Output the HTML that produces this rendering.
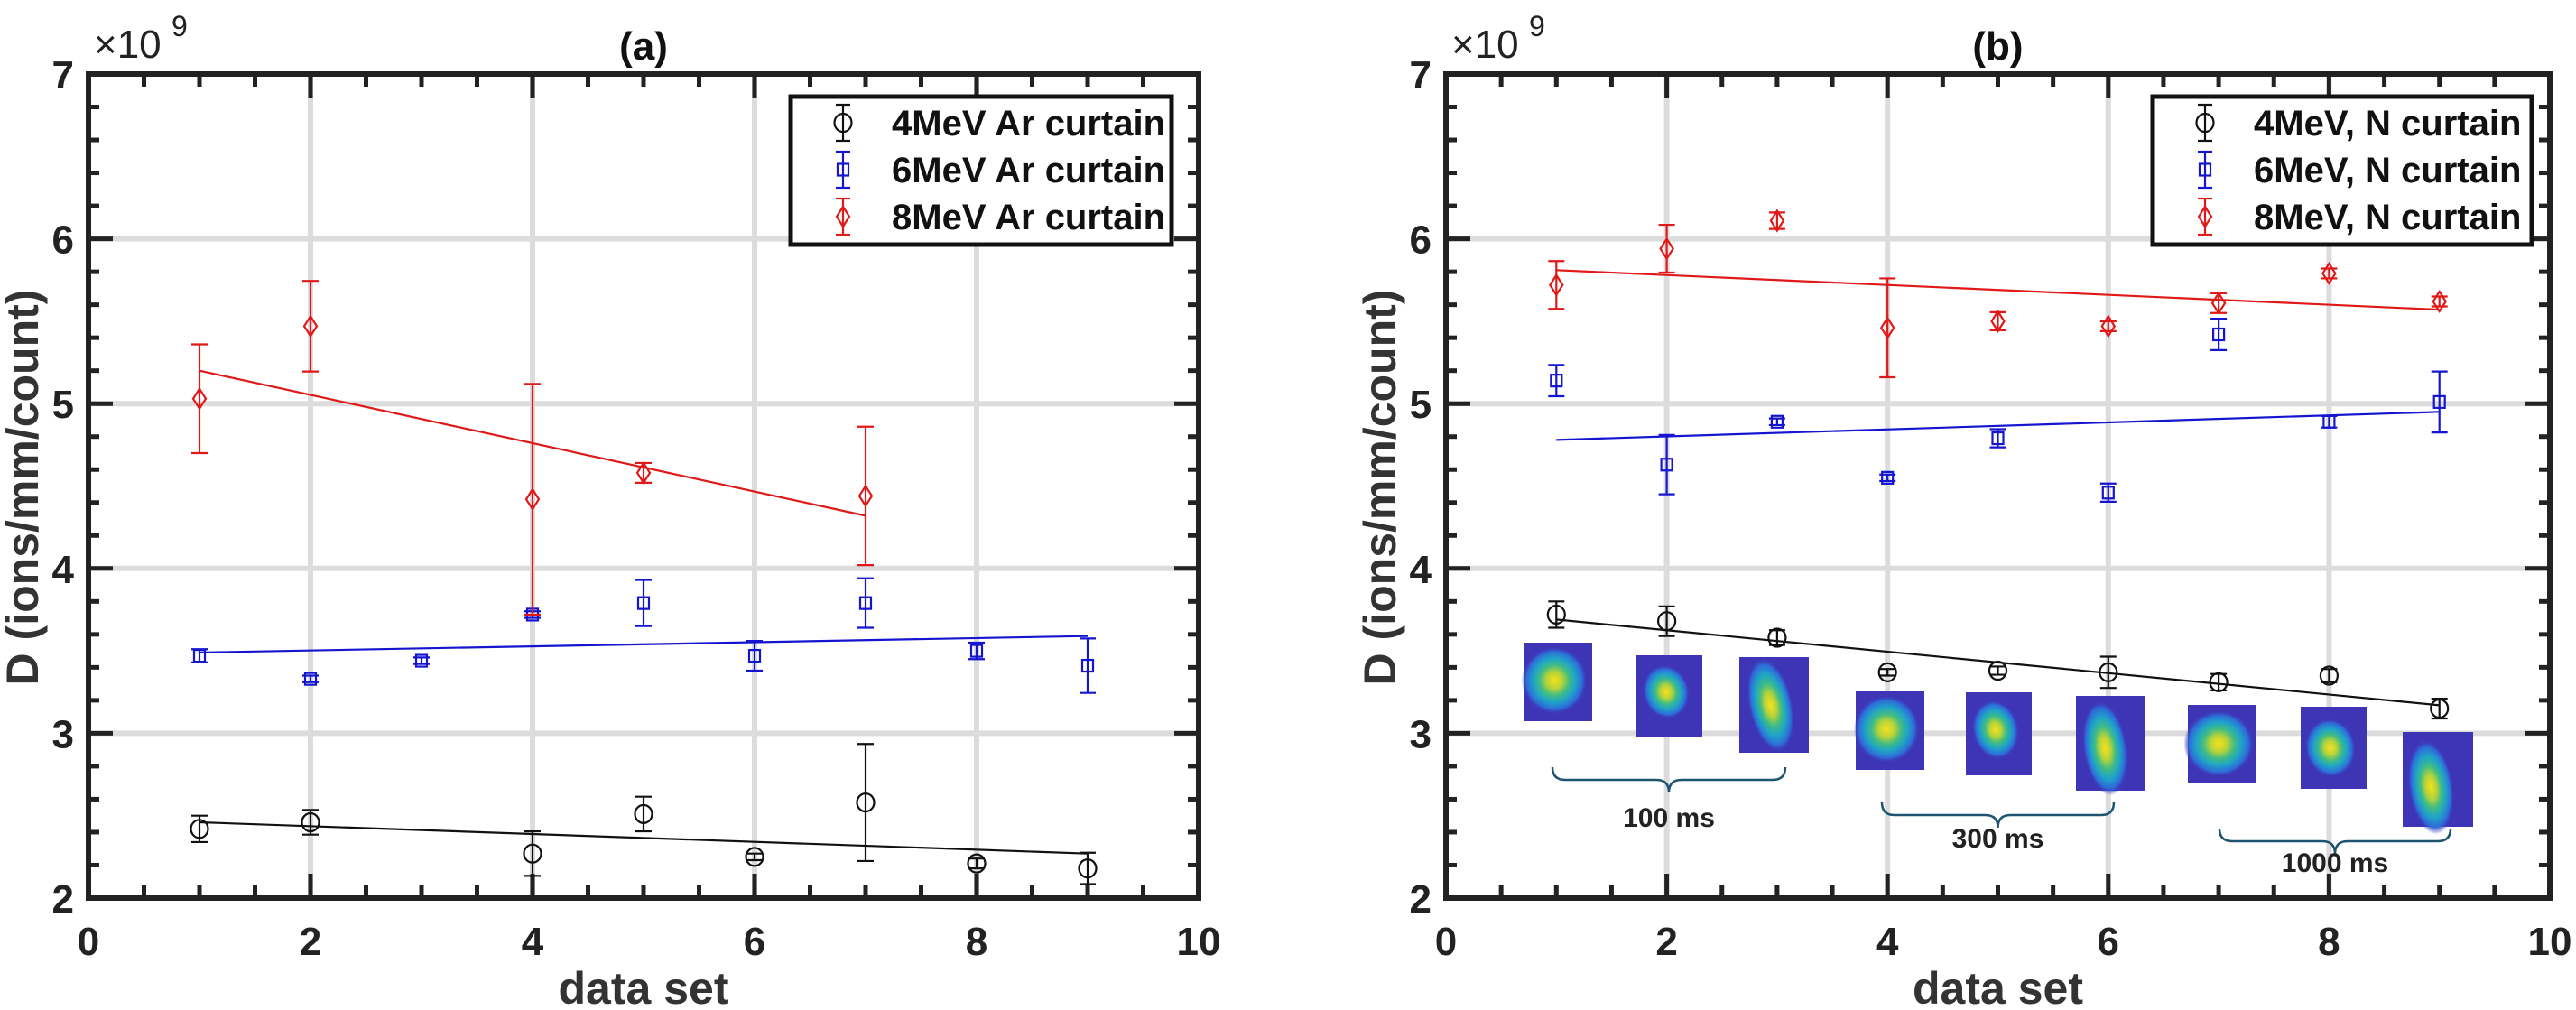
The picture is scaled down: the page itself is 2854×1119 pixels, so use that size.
<!DOCTYPE html>
<html><head><meta charset="utf-8">
<style>
html,body{margin:0;padding:0;background:#fff;}
svg{display:block;}
text{font-family:"Liberation Sans",Arial,sans-serif;}
</style></head>
<body>
<svg id="chart" width="2854" height="1119" viewBox="0 0 2854 1119" xmlns="http://www.w3.org/2000/svg">
<defs>
<radialGradient id="blob" cx="50%" cy="50%" r="50%">
<stop offset="0" stop-color="#f7e11c"/>
<stop offset="0.25" stop-color="#b5d33a"/>
<stop offset="0.45" stop-color="#3fbc85"/>
<stop offset="0.65" stop-color="#1fa3c8"/>
<stop offset="0.85" stop-color="#2f6ad8"/>
<stop offset="1" stop-color="#3d35b5" stop-opacity="0"/>
</radialGradient>
</defs>
</svg>
<script>
// ---------- data ----------
const xTicks = [0,2,4,6,8,10];
const yTicks = [2,3,4,5,6,7];
const seriesNamesA = ['4MeV Ar curtain','6MeV Ar curtain','8MeV Ar curtain'];
const seriesNamesB = ['4MeV, N curtain','6MeV, N curtain','8MeV, N curtain'];

const a4x = [1,2,4,5,6,7,8,9];
const a4y = [2.42,2.46,2.27,2.51,2.25,2.58,2.21,2.18];
const a4e = [0.08,0.075,0.135,0.105,0.02,0.355,0.03,0.095];
const a4fit = [[1,2.46],[9,2.27]];
const a6x = [1,2,3,4,5,6,7,8,9];
const a6y = [3.47,3.33,3.44,3.72,3.79,3.47,3.79,3.50,3.41];
const a6e = [0.04,0.02,0.02,0.02,0.14,0.09,0.15,0.05,0.165];
const a6fit = [[1,3.49],[9,3.59]];
const a8x = [1,2,4,5,7];
const a8y = [5.03,5.47,4.42,4.58,4.44];
const a8e = [0.33,0.275,0.70,0.06,0.42];
const a8fit = [[1,5.20],[7,4.32]];

const b4x = [1,2,3,4,5,6,7,8,9];
const b4y = [3.72,3.68,3.58,3.37,3.38,3.37,3.31,3.35,3.15];
const b4e = [0.08,0.09,0.045,0.02,0.025,0.095,0.05,0.04,0.06];
const b4fit = [[1,3.69],[9,3.17]];
const b6x = [1,2,3,4,5,6,7,8,9];
const b6y = [5.14,4.63,4.89,4.55,4.79,4.46,5.42,4.89,5.01];
const b6e = [0.095,0.18,0.02,0.02,0.055,0.055,0.095,0.035,0.185];
const b6fit = [[1,4.78],[9,4.95]];
const b8x = [1,2,3,4,5,6,7,8,9];
const b8y = [5.72,5.94,6.11,5.46,5.50,5.47,5.61,5.79,5.62];
const b8e = [0.145,0.145,0.05,0.30,0.055,0.03,0.06,0.03,0.03];
const b8fit = [[1,5.81],[9,5.57]];

// ---------- drawing ----------
const NS='http://www.w3.org/2000/svg';
const svg=document.getElementById('chart');
function mk(tag,attrs,parent){const e=document.createElementNS(NS,tag);for(const k in attrs)e.setAttribute(k,attrs[k]);(parent||svg).appendChild(e);return e;}

function panel(cfg){
  const L=cfg.left,R=cfg.right,T=82,B=995;
  const sx=v=>L+(v-0)/10*(R-L);
  const sy=v=>B-(v-2)/5*(B-T);
  const g=mk('g',{});
  
  
  // grid
  [2,4,6,8].forEach(v=>{const l=mk('line',{x1:sx(v),x2:sx(v),y1:T,y2:B,stroke:'#dcdcdc','stroke-width':6},g);
    });
  [3,4,5,6].forEach(v=>{const l=mk('line',{x1:L,x2:R,y1:sy(v),y2:sy(v),stroke:'#dcdcdc','stroke-width':6},g);
    });
  // extra (images etc.) drawn under data
  if(cfg.extra) cfg.extra(g,sx,sy);
  // ticks
  for(let v=0.5;v<10;v+=0.5){const maj=Math.abs(v%2)<1e-6;const len=maj?27:14;
    mk('line',{x1:sx(v),x2:sx(v),y1:B,y2:B-len,stroke:'#222','stroke-width':5},g);
    mk('line',{x1:sx(v),x2:sx(v),y1:T,y2:T+len,stroke:'#222','stroke-width':5},g);}
  for(let v=2.2;v<7;v+=0.2){const maj=Math.abs(v-Math.round(v))<1e-6;const len=maj?27:12;
    mk('line',{x1:L,x2:L+len,y1:sy(v),y2:sy(v),stroke:'#222','stroke-width':5},g);
    mk('line',{x1:R,x2:R-len,y1:sy(v),y2:sy(v),stroke:'#222','stroke-width':5},g);}
  // box
  const box=mk('rect',{x:L,y:T,width:R-L,height:B-T,fill:'none',stroke:'#222','stroke-width':6},g);
  
  // tick labels
  xTicks.forEach(v=>{const t=mk('text',{x:sx(v),y:1058,'font-size':44,'font-weight':'bold','text-anchor':'middle',fill:'#222'},g);t.textContent=v;
    });
  yTicks.forEach(v=>{const t=mk('text',{x:L-16,y:sy(v)+16,'font-size':44,'font-weight':'bold','text-anchor':'end',fill:'#222'},g);t.textContent=v;
    });
  const ex=mk('text',{x:L+6,y:64,'font-size':44,fill:'#222'},g);ex.textContent='\u00d710';
  
  const e9=mk('text',{x:L+92,y:40,'font-size':32,fill:'#222'},g);e9.textContent='9';
  const ti=mk('text',{x:(L+R)/2,y:66,'font-size':44,'font-weight':'bold','text-anchor':'middle',fill:'#111'},g);ti.textContent=cfg.title;
  
  const xl=mk('text',{x:(L+R)/2,y:1112,'font-size':50,'font-weight':'bold','text-anchor':'middle',fill:'#333'},g);xl.textContent='data set';
  
  const yl=mk('text',{x:0,y:0,'font-size':50,'font-weight':'bold','text-anchor':'middle',fill:'#333',transform:`translate(${L-56},540) rotate(-90)`},g);yl.textContent='D (ions/mm/count)';
  
  // series
  const cols=['#111','#1515d0','#e01818'];
  const shapes=['circle','square','diamond'];
  cfg.series.forEach((s,i)=>{
    const c=cols[i];
    const fl=mk('line',{x1:sx(s.fit[0][0]),y1:sy(s.fit[0][1]),x2:sx(s.fit[1][0]),y2:sy(s.fit[1][1]),stroke:c,'stroke-width':2.2},g);
    
    s.x.forEach((xv,j)=>{
      const cx=sx(xv),cy=sy(s.y[j]),t=sy(s.y[j]+s.e[j]),b=sy(s.y[j]-s.e[j]);
      const gg=mk('g',{},g);
      
      mk('line',{x1:cx,x2:cx,y1:t,y2:b,stroke:c,'stroke-width':2.2},gg);
      mk('line',{x1:cx-9,x2:cx+9,y1:t,y2:t,stroke:c,'stroke-width':2.2},gg);
      mk('line',{x1:cx-9,x2:cx+9,y1:b,y2:b,stroke:c,'stroke-width':2.2},gg);
      marker(gg,shapes[i],cx,cy,c);
    });
  });
  // legend
  const lg=mk('g',{},g);
  
  const lx=cfg.legend[0],lw=cfg.legend[1];
  mk('rect',{x:lx,y:107,width:lw,height:164,fill:'#fff',stroke:'#111','stroke-width':5},lg);
  cfg.names.forEach((n,i)=>{
    const yy=136+i*52,mx=lx+58;const c=cols[i];
    const le=mk('g',{},lg);
    
    mk('line',{x1:mx,x2:mx,y1:yy-20,y2:yy+20,stroke:c,'stroke-width':2.2},le);
    mk('line',{x1:mx-8,x2:mx+8,y1:yy-20,y2:yy-20,stroke:c,'stroke-width':2.2},le);
    mk('line',{x1:mx-8,x2:mx+8,y1:yy+20,y2:yy+20,stroke:c,'stroke-width':2.2},le);
    marker(le,shapes[i],mx,yy,c);
    const tt=mk('text',{x:lx+112,y:yy+14,'font-size':40,'font-weight':'bold',fill:'#111'},le);tt.textContent=n;
  });
}
function marker(g,shape,cx,cy,c){
  if(shape==='circle') mk('ellipse',{cx,cy,rx:9.5,ry:10,fill:'none',stroke:c,'stroke-width':2.2},g);
  else if(shape==='square') mk('rect',{x:cx-6,y:cy-6.5,width:12,height:13,fill:'none',stroke:c,'stroke-width':2.2},g);
  else mk('polygon',{points:`${cx},${cy-11} ${cx+7},${cy} ${cx},${cy+11} ${cx-7},${cy}`,fill:'none',stroke:c,'stroke-width':2.2},g);
}

panel({name:'panel-a',left:98,right:1328,title:'(a)',names:seriesNamesA,legend:[876,422],
  series:[{x:a4x,y:a4y,e:a4e,fit:a4fit},{x:a6x,y:a6y,e:a6e,fit:a6fit},{x:a8x,y:a8y,e:a8e,fit:a8fit}]});

const thumbs=[[1688,712,76,87,0.45,0.48,0.30,0.36,0],[1813,726,73,90,0.45,0.45,0.22,0.28,-15],[1927,728,77,106,0.45,0.50,0.20,0.42,-12],
 [2056,766,76,87,0.45,0.48,0.30,0.36,0],[2178,767,73,92,0.45,0.45,0.22,0.30,-12],[2300,771,77,105,0.42,0.55,0.20,0.42,-8],
 [2424,781,76,86,0.45,0.50,0.32,0.36,0],[2549,783,73,91,0.45,0.50,0.24,0.30,-10],[2662,811,78,105,0.40,0.58,0.20,0.42,-8]];
const braces=[[1720,850,1978,'100 ms',906],[2085,889,2342,'300 ms',929],[2459,918,2715,'1000 ms',956]];

panel({name:'panel-b',left:1602,right:2825,title:'(b)',names:seriesNamesB,legend:[2385,420],
  series:[{x:b4x,y:b4y,e:b4e,fit:b4fit},{x:b6x,y:b6y,e:b6e,fit:b6fit},{x:b8x,y:b8y,e:b8e,fit:b8fit}],
  extra:function(g){
    thumbs.forEach(t=>{
      const tg=mk('g',{},g);
      
      
      mk('rect',{x:t[0],y:t[1],width:t[2],height:t[3],fill:'#3d35b5'},tg);
      const cx=t[0]+t[2]*t[4],cy=t[1]+t[3]*t[5];
      mk('ellipse',{cx,cy,rx:t[2]*t[6]*1.6,ry:t[3]*t[7]*1.2,fill:'url(#blob)',transform:`rotate(${t[8]} ${cx} ${cy})`},tg);
    });
    braces.forEach(b=>{
      const [x1,y1,x2,lab,ly]=b,m=(x1+x2)/2,h=28;
      const bg=mk('g',{},g);
      
      
      mk('path',{d:`M${x1},${y1} Q${x1},${y1+h/2} ${x1+14},${y1+h/2} L${m-14},${y1+h/2} Q${m},${y1+h/2} ${m},${y1+h} Q${m},${y1+h/2} ${m+14},${y1+h/2} L${x2-14},${y1+h/2} Q${x2},${y1+h/2} ${x2},${y1}`,fill:'none',stroke:'#1f5470','stroke-width':2.5},bg);
      const tt=mk('text',{x:m,y:ly+10,'font-size':30,'font-weight':'bold','text-anchor':'middle',fill:'#222'},bg);tt.textContent=lab;
    });
  }});
</script>
</body></html>
